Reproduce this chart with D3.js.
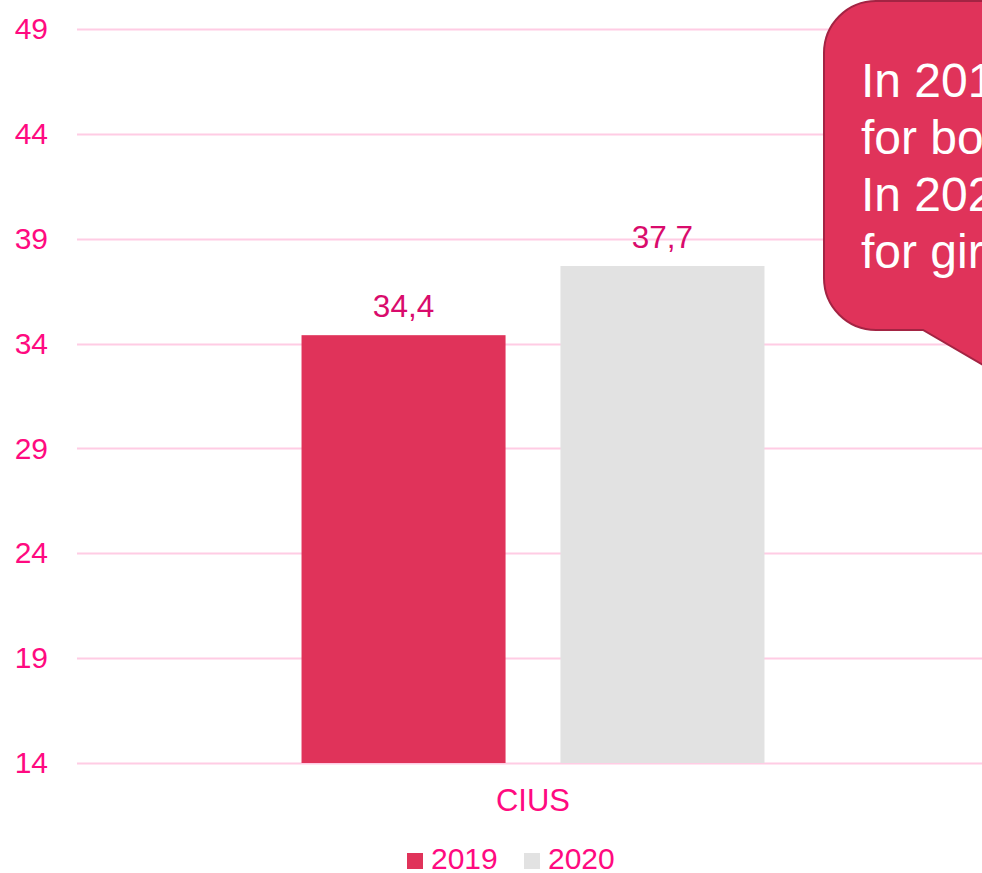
<!DOCTYPE html>
<html>
<head>
<meta charset="utf-8">
<script src="https://cdn.jsdelivr.net/npm/d3@7"></script>
<style>
  body { margin: 0; background: #fff; }
  svg { display: block; font-family: "Liberation Sans", Arial, sans-serif; }
</style>
</head>
<body>
<svg id="chart" width="982" height="873"></svg>
<script>
// data
var categories = ["CIUS"];
var years = ["2019", "2020"];
var values2019 = [34.4];
var values2020 = [37.7];
var yTicks = [14, 19, 24, 29, 34, 39, 44, 49];
var colors = ["#E0335A", "#E2E2E2"];
var calloutLines = ["In 2019", "for boys", "In 2020", "for girls"];

var svg = d3.select("#chart");

// scales
var y = d3.scaleLinear().domain([14, 49]).range([763, 29]);
var x0 = d3.scaleBand().domain(categories).range([77, 989]).paddingInner(0).paddingOuter(0.485);
var x1 = d3.scaleBand().domain(years).range([0, x0.bandwidth()]).paddingInner(0.212).paddingOuter(0);
var color = d3.scaleOrdinal().domain(years).range(colors);

// gridlines
svg.append("g")
  .selectAll("line")
  .data(yTicks)
  .enter()
  .append("line")
  .attr("x1", 77)
  .attr("x2", 990)
  .attr("y1", function(d) { return Math.round(y(d)) + 0.5; })
  .attr("y2", function(d) { return Math.round(y(d)) + 0.5; })
  .style("stroke", "#FFCCE4")
  .style("stroke-width", 2);

// y axis labels
var yAxis = d3.axisLeft(y).tickValues(yTicks).tickSize(0).tickPadding(0);
var gy = svg.append("g").attr("transform", "translate(48,0)").call(yAxis);
gy.select(".domain").remove();
gy.selectAll("text")
  .style("font-size", "30px")
  .style("fill", "#FF0A80")
  .style("font-family", "Liberation Sans, Arial, sans-serif");

// bars
var rows = categories.map(function(c, i) {
  return [{ cat: c, year: "2019", value: values2019[i] }, { cat: c, year: "2020", value: values2020[i] }];
});

var group = svg.append("g")
  .selectAll("g")
  .data(rows)
  .enter()
  .append("g")
  .attr("transform", function(d) { return "translate(" + x0(d[0].cat) + ",0)"; });

group.selectAll("rect")
  .data(function(d) { return d; })
  .enter()
  .append("rect")
  .attr("x", function(d) { return x1(d.year); })
  .attr("y", function(d) { return y(d.value); })
  .attr("width", x1.bandwidth())
  .attr("height", function(d) { return y(14) - y(d.value); })
  .attr("fill", function(d) { return color(d.year); });

group.selectAll("text")
  .data(function(d) { return d; })
  .enter()
  .append("text")
  .attr("x", function(d) { return x1(d.year) + x1.bandwidth() / 2; })
  .attr("y", function(d) { return y(d.value) - 18; })
  .attr("text-anchor", "middle")
  .style("font-size", "31.5px")
  .style("fill", "#D90B6C")
  .text(function(d) { return String(d.value).replace(".", ","); });

// x axis label
var xAxis = d3.axisBottom(x0).tickSize(0).tickPadding(0);
var gx = svg.append("g").attr("transform", "translate(0,789)").call(xAxis);
gx.select(".domain").remove();
gx.selectAll("text")
  .style("font-size", "31px")
  .style("fill", "#FF0A80")
  .style("font-family", "Liberation Sans, Arial, sans-serif");

// legend
var legendX = [407, 524];
var legend = svg.append("g")
  .selectAll("g")
  .data(years)
  .enter()
  .append("g")
  .attr("transform", function(d, i) { return "translate(" + legendX[i] + ",853)"; });
legend.append("rect")
  .attr("width", 16)
  .attr("height", 16)
  .attr("fill", function(d) { return color(d); });
legend.append("text")
  .attr("x", 24)
  .attr("y", 16)
  .style("font-size", "30px")
  .style("fill", "#FF0A80")
  .text(function(d) { return d; });

// callout bubble
var bx = 824, by = 1, bw = 260, bh = 329, r = 52;
var path = d3.path();
path.moveTo(bx + r, by);
path.lineTo(bx + bw, by);
path.lineTo(bx + bw, by + bh);
path.lineTo(1010, by + bh);
path.lineTo(995, 372);
path.lineTo(923, by + bh);
path.lineTo(bx + r, by + bh);
path.arcTo(bx, by + bh, bx, by + bh - r, r);
path.lineTo(bx, by + r);
path.arcTo(bx, by, bx + r, by, r);
path.closePath();
svg.append("path")
  .attr("d", path.toString())
  .attr("fill", "#E0335A")
  .attr("stroke", "#A32443")
  .attr("stroke-width", 2);

svg.append("g")
  .selectAll("text")
  .data(calloutLines)
  .enter()
  .append("text")
  .attr("x", 861)
  .attr("y", function(d, i) { return 97 + i * 57; })
  .style("font-size", "48px")
  .style("fill", "#ffffff")
  .text(function(d) { return d; });
</script>
</body>
</html>
